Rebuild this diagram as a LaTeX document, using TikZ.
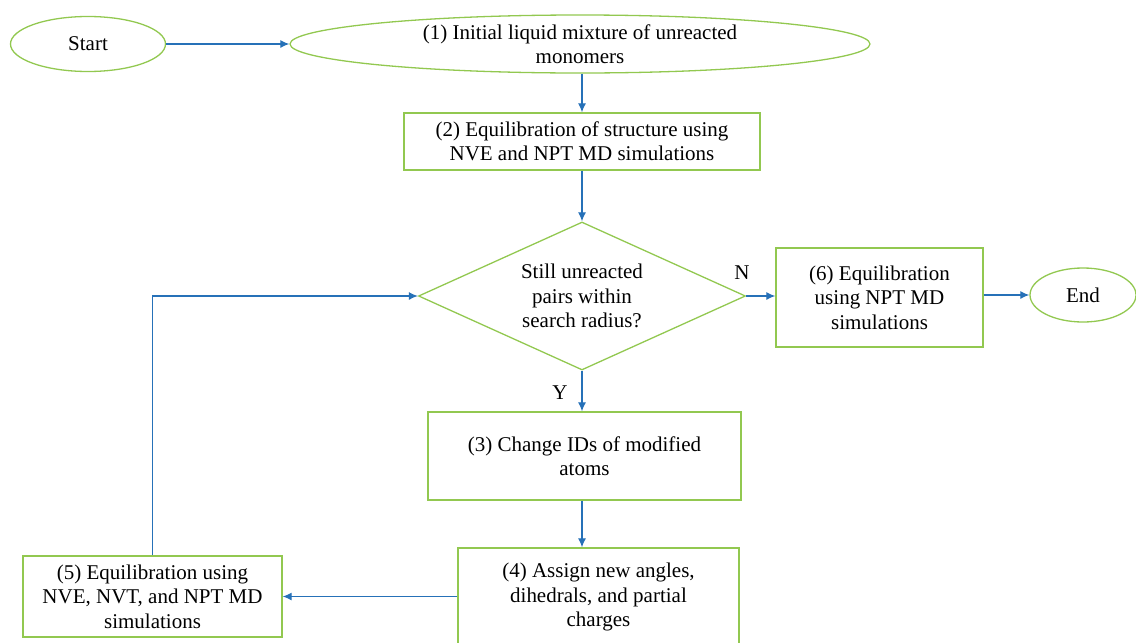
\documentclass[tikz,border=0pt]{standalone}
\usepackage{fontspec}
\setmainfont{Liberation Serif}
\usetikzlibrary{shapes.geometric,arrows.meta}
\definecolor{boxgreen}{RGB}{146,200,80}
\definecolor{arrowblue}{RGB}{38,113,184}
\begin{document}
\begin{tikzpicture}[x=1pt, y=-1pt,
    every node/.style={font=\fontsize{21}{24.5}\selectfont, align=center, inner sep=0pt},
    oval/.style={draw=boxgreen, line width=1.3pt, ellipse},
    stepbox/.style={draw=boxgreen, line width=1.3pt, rectangle},
    decide/.style={draw=boxgreen, line width=1.3pt, diamond, aspect=2.2},
    flow/.style={draw=arrowblue, line width=1.2pt, -{Latex[length=9pt,width=8pt]}}]
\useasboundingbox (0, 0) rectangle (1136, 643);
\node[oval, minimum width=155, minimum height=55] (start) at (88, 44) {Start};
\node[oval, minimum width=580, minimum height=58] (init) at (580, 44)
    {(1) Initial liquid mixture of unreacted\\monomers};
\node[stepbox, minimum width=356, minimum height=57] (equil) at (582, 141.5)
    {(2) Equilibration of structure using\\NVE and NPT MD simulations};
\node[decide, minimum width=327, minimum height=148] (check) at (582, 296)
    {Still unreacted\\pairs within\\search radius?};
\node[stepbox, minimum width=207, minimum height=99] (final) at (879.5, 297.5)
    {(6) Equilibration\\using NPT MD\\simulations};
\node[oval, minimum width=106, minimum height=54] (end) at (1083, 295) {End};
\node[stepbox, minimum width=313, minimum height=88] (change) at (584.5, 456)
    {(3) Change IDs of modified\\atoms};
\node[stepbox, minimum width=281, minimum height=98] (assign) at (598.5, 597)
    {(4) Assign new angles,\\dihedrals, and partial\\charges};
\node[stepbox, minimum width=259, minimum height=81] (relax) at (152.5, 596.5)
    {(5) Equilibration using\\NVE, NVT, and NPT MD\\simulations};
\node (no) at (742, 273) {N};
\node (yes) at (560, 393) {Y};
% connectors
\draw[flow] (start) -- (init);
\draw[flow] (init.south -| equil.north) -- (equil.north);
\draw[flow] (equil) -- (check);
\draw[flow] (check.east) -- (final.west |- check.east);
\draw[flow] (final.east |- end.west) -- (end.west);
\draw[flow] (check.south) -- (check.south |- change.north);
\draw[flow] (change.south -| check.south) -- (check.south |- assign.north);
\draw[flow] (assign.west |- relax.east) -- (relax.east);
\draw[flow] (relax.north) |- (check.west);
\end{tikzpicture}
\end{document}
